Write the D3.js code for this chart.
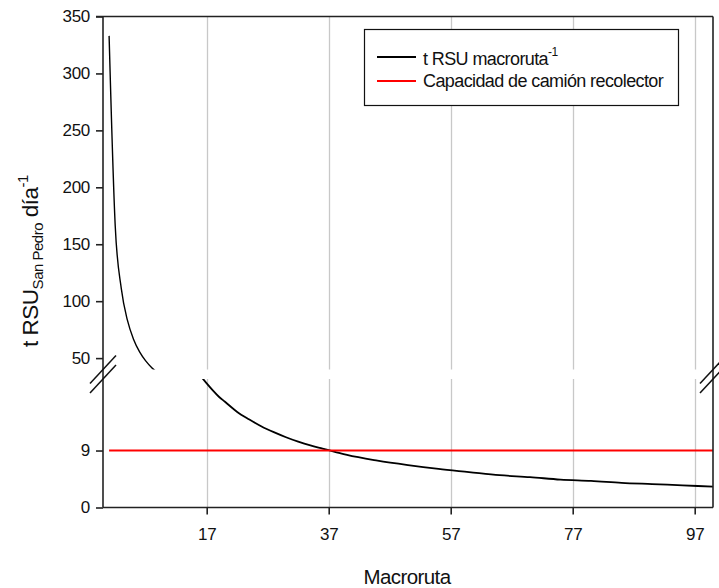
<!DOCTYPE html>
<html>
<head>
<meta charset="utf-8">
<script src="https://cdn.jsdelivr.net/npm/d3@7"></script>
<style>
  body { margin: 0; background: #fff; }
  svg text { font-family: "Liberation Sans", Arial, sans-serif; fill: #111; }
</style>
</head>
<body>
<svg id="chart" width="719" height="588"></svg>
<script>
// macroruta count vs tonnes per macroruta
const macroruta = [1,2,3,4,5,6,7,8,9,10,11,12,13,14,15,16,17,18,19,20,22,24,26,28,30,32,34,36,38,40,45,50,55,60,65,70,75,80,85,90,95,100];
const tRSU = [333,166.5,111,83.3,66.6,55.5,47.6,41.6,37,33.3,30.3,27.8,25.6,23.8,22.2,20.8,19.6,18.5,17.5,16.7,15.1,13.9,12.8,11.9,11.1,10.4,9.8,9.3,8.8,8.3,7.4,6.7,6.1,5.6,5.1,4.8,4.4,4.2,3.9,3.7,3.5,3.3];
const capacidad = 9;
const capX = [1, 100];

const xTicks = [17, 37, 57, 77, 97];
const yTopTicks = [50, 100, 150, 200, 250, 300, 350];
const yBotTicks = [0, 9];

const svg = d3.select("#chart");
const plotL = 103, plotR = 713, plotT = 16.5, plotB = 507.5;
const breakTop = 369.5, breakBot = 379;

const x = d3.scaleLinear().domain([0, 100]).range([plotL, plotR]);
const yTop = d3.scaleLinear().domain([40, 350]).range([breakTop, plotT]);
const yBot = d3.scaleLinear().domain([0, 20.3]).range([plotB, breakBot]);

const rows = macroruta.map((m, i) => ({ m, t: tRSU[i] }));

// clip regions for the two panels
const defs = svg.append("defs");
defs.append("clipPath").attr("id", "clipTop").append("rect")
  .attr("x", plotL).attr("y", plotT).attr("width", plotR - plotL).attr("height", breakTop - plotT);
defs.append("clipPath").attr("id", "clipBot").append("rect")
  .attr("x", plotL).attr("y", breakBot).attr("width", plotR - plotL).attr("height", plotB - breakBot);

// vertical grid, broken at the gap
const grid = svg.append("g").attr("stroke", "#c8c8c8").attr("stroke-width", 1.3);
xTicks.forEach(v => {
  const gx = Math.round(x(v)) + 0.5;
  grid.append("line").attr("x1", gx).attr("x2", gx).attr("y1", plotT).attr("y2", breakTop);
  grid.append("line").attr("x1", gx).attr("x2", gx).attr("y1", breakBot).attr("y2", plotB);
});

// curve, drawn once per panel
const lineTop = d3.line().curve(d3.curveMonotoneX).x(d => x(d.m)).y(d => yTop(d.t));
const lineBot = d3.line().curve(d3.curveMonotoneX).x(d => x(d.m)).y(d => yBot(d.t));
svg.append("path").datum(rows).attr("clip-path", "url(#clipTop)")
  .attr("fill", "none").attr("stroke", "#000").attr("stroke-width", 1.4).attr("d", lineTop);
svg.append("path").datum(rows).attr("clip-path", "url(#clipBot)")
  .attr("fill", "none").attr("stroke", "#000").attr("stroke-width", 1.8).attr("d", lineBot);

// truck capacity
svg.append("line")
  .attr("x1", x(capX[0])).attr("x2", x(capX[1]))
  .attr("y1", yBot(capacidad)).attr("y2", yBot(capacidad))
  .attr("stroke", "#ff0000").attr("stroke-width", 2);

// frame
const frame = svg.append("g").attr("stroke", "#222").attr("stroke-width", 1.6);
frame.append("line").attr("x1", plotL - 7).attr("x2", plotR).attr("y1", plotT).attr("y2", plotT);
frame.append("line").attr("x1", plotL).attr("x2", plotR).attr("y1", plotB).attr("y2", plotB);
frame.append("line").attr("x1", plotL).attr("x2", plotL).attr("y1", plotT).attr("y2", plotB);
frame.append("line").attr("x1", plotR).attr("x2", plotR).attr("y1", plotT).attr("y2", plotB);

// axes
function styleAxis(g) {
  g.select(".domain").remove();
  g.selectAll(".tick line").attr("stroke", "#222").attr("stroke-width", 1.6);
  g.selectAll(".tick text").attr("font-size", 17).attr("fill", "#111")
    .attr("font-family", "Liberation Sans, Arial, sans-serif").attr("letter-spacing", -0.3);
}
svg.append("g").attr("transform", `translate(${plotL},0)`)
  .call(d3.axisLeft(yTop).tickValues(yTopTicks).tickSize(7).tickPadding(6))
  .call(styleAxis);
svg.append("g").attr("transform", `translate(${plotL},0)`)
  .call(d3.axisLeft(yBot).tickValues(yBotTicks).tickSize(7).tickPadding(6))
  .call(styleAxis);
svg.append("g").attr("transform", `translate(0,${plotB})`)
  .call(d3.axisBottom(x).tickValues(xTicks).tickSize(7).tickPadding(13))
  .call(styleAxis);

// break marks on both side axes
const marks = svg.append("g").attr("stroke", "#111").attr("stroke-width", 1.5);
[plotL, plotR].forEach(ax => {
  [breakTop, breakBot].forEach(by => {
    marks.append("line").attr("x1", ax - 13).attr("y1", by + 14).attr("x2", ax + 13).attr("y2", by - 14);
  });
});

// axis titles
svg.append("text").attr("x", 407).attr("y", 584)
  .attr("text-anchor", "middle").attr("font-size", 20.5).attr("letter-spacing", -0.6).text("Macroruta");

const yt = svg.append("text").attr("transform", "translate(38,261) rotate(-90)")
  .attr("text-anchor", "middle").attr("font-size", 22.5).attr("letter-spacing", -0.5);
yt.append("tspan").text("t RSU");
yt.append("tspan").attr("font-size", 15).attr("dy", 5).text("San Pedro");
yt.append("tspan").attr("dy", -5).text(" día");
yt.append("tspan").attr("font-size", 15).attr("dy", -10).text("-1");

// legend
const lg = svg.append("g");
lg.append("rect").attr("x", 364.5).attr("y", 29.5).attr("width", 314).attr("height", 76)
  .attr("fill", "#fff").attr("stroke", "#111").attr("stroke-width", 1.2);
const items = [
  { color: "#000", y: 57, ty: 65, label: "t RSU macroruta", sup: "-1" },
  { color: "#ff0000", y: 81, ty: 86.5, label: "Capacidad de camión recolector", sup: null }
];
items.forEach(it => {
  lg.append("line").attr("x1", 377).attr("x2", 416).attr("y1", it.y).attr("y2", it.y)
    .attr("stroke", it.color).attr("stroke-width", 2);
  const t = lg.append("text").attr("x", 423).attr("y", it.ty)
    .attr("font-size", 18).attr("letter-spacing", -0.6);
  t.append("tspan").text(it.label);
  if (it.sup) t.append("tspan").attr("font-size", 12).attr("dy", -9).text(it.sup);
});
</script>
</body>
</html>
